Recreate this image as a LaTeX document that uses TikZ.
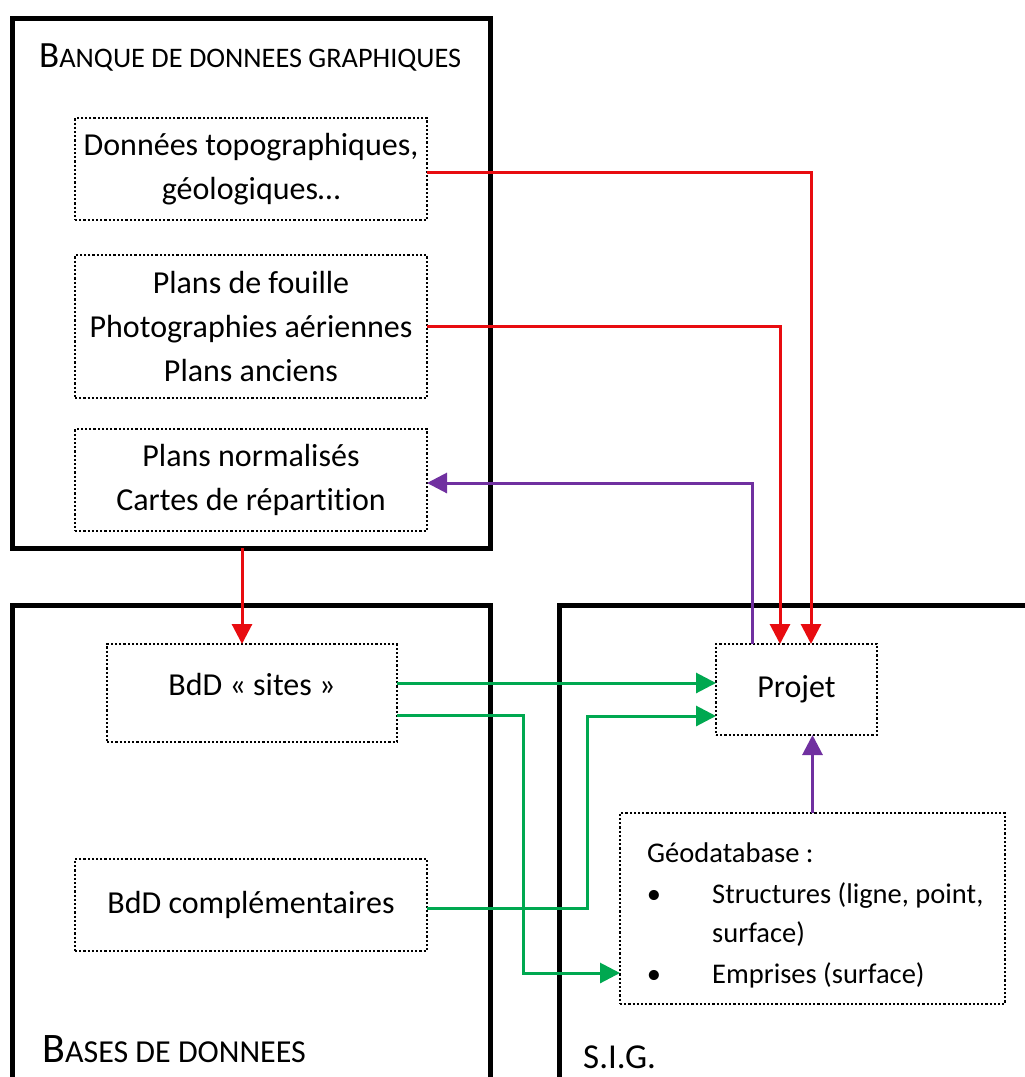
\documentclass[tikz,border=0pt]{standalone}
\usepackage{fontspec}
\setmainfont{Carlito}[Ligatures={NoCommon}]
\usetikzlibrary{arrows.meta}
\definecolor{myred}{RGB}{232,12,16}
\definecolor{mygreen}{RGB}{0,168,80}
\definecolor{mypurple}{RGB}{112,48,160}
\newcommand{\fsz}[1]{\fontsize{#1}{#1}\selectfont}
\begin{document}
\begin{tikzpicture}[x=1pt,y=-1pt,
  frame/.style={draw=black, line width=5pt, inner sep=0pt, outer sep=0pt, anchor=north west},
  dotbox/.style={draw=black, line width=2.2pt, dash pattern=on 2.2pt off 2pt, inner sep=0pt, outer sep=0pt,
     align=center, font=\fontsize{32}{44}\selectfont},
  arr/.style={line width=3pt, -{Triangle[length=20pt,width=20pt]}},
  redarr/.style={arr, draw=myred},
  grnarr/.style={arr, draw=mygreen},
  purarr/.style={arr, draw=mypurple},
  lbl/.style={inner sep=0pt, anchor=base west},
  geotxt/.style={inner sep=0pt, anchor=base west, font=\fontsize{28.5}{28.5}\selectfont}
]
\useasboundingbox (0,0) rectangle (1025,1077);
\clip (0,0) rectangle (1025,1077);
\fill[white] (0,0) rectangle (1025,1077);

% outer frames
\node[frame, minimum width=478pt, minimum height=529.5pt] (bdg) at (12.5,18.5) {};
\node[frame, minimum width=478pt, minimum height=500pt] (bdd) at (12.5,605.5) {};
\node[frame, minimum width=500pt, minimum height=500pt] (sig) at (559.5,605.5) {};

% titles
\node[lbl] (t1) at (39,67) {{\fsz{37}B}{\fsz{28.3}ANQUE DE DONNEES GRAPHIQUES}};
\node[lbl] (t2) at (42,1062) {{\fsz{42}B}{\fsz{32}ASES DE DONNEES}};
\node[lbl, font=\fsz{35}] (t3) at (583,1068) {S.I.G.};

% inner boxes
\node[dotbox, minimum width=352pt, minimum height=102pt] (topo) at (251,169) {Données topographiques,\\géologiques…};
\node[dotbox, minimum width=352pt, minimum height=143pt] (plans) at (251,326.5) {Plans de fouille\\Photographies aériennes\\Plans anciens};
\node[dotbox, minimum width=352pt, minimum height=102pt] (norm) at (251,480) {Plans normalisés\\Cartes de répartition};
\node[dotbox, minimum width=290pt, minimum height=98pt, text depth=18pt] (sites) at (252,693) {BdD « sites »};
\node[dotbox, minimum width=352pt, minimum height=92pt] (compl) at (251,905) {BdD complémentaires};
\node[dotbox, minimum width=161pt, minimum height=91pt] (proj) at (796.5,689.5) {Projet};
\node[dotbox, minimum width=385pt, minimum height=191pt] (geo) at (812.5,908.5) {};

% geodatabase content
\node[geotxt] (g0) at (647,862) {Géodatabase :};
\node[geotxt, anchor=base] (b1) at (654,903) {•};
\node[geotxt] (g1) at (712,903) {Structures (ligne, point,};
\node[geotxt] (g2) at (712,942) {surface)};
\node[geotxt, anchor=base] (b2) at (654,983) {•};
\node[geotxt] (g3) at (712,983) {Emprises (surface)};

% helper coordinates
\coordinate (rx) at (242,0);
\coordinate (rx1) at (811,0);
\coordinate (rx2) at (780,0);
\coordinate (px) at (752,0);
\coordinate (s1) at ([yshift=10pt]sites.east);
\coordinate (s2) at ([yshift=-22pt]sites.east);
\coordinate (c1) at ([yshift=-3pt]compl.east);
\coordinate (gx2) at (523,973);
\coordinate (gx3) at (587,716);
\coordinate (o1) at ([yshift=-3pt]topo.east);

% connectors
\draw[redarr] (o1) -| (rx1 |- proj.north);
\draw[redarr] (plans.east) -| (rx2 |- proj.north);
\draw[redarr] (bdg.south -| rx) -- (sites.north -| rx);
\draw[purarr] (px |- proj.north) |- ([yshift=-3pt]norm.east);
\draw[purarr] (geo.north) -- (geo.north |- proj.south);
\draw[grnarr] (s1) -- (s1 -| proj.west);
\draw[grnarr] (s2) -| (gx2) -- (gx2 -| geo.west);
\draw[grnarr] (c1) -| (gx3) -- (gx3 -| proj.west);
\end{tikzpicture}
\end{document}
